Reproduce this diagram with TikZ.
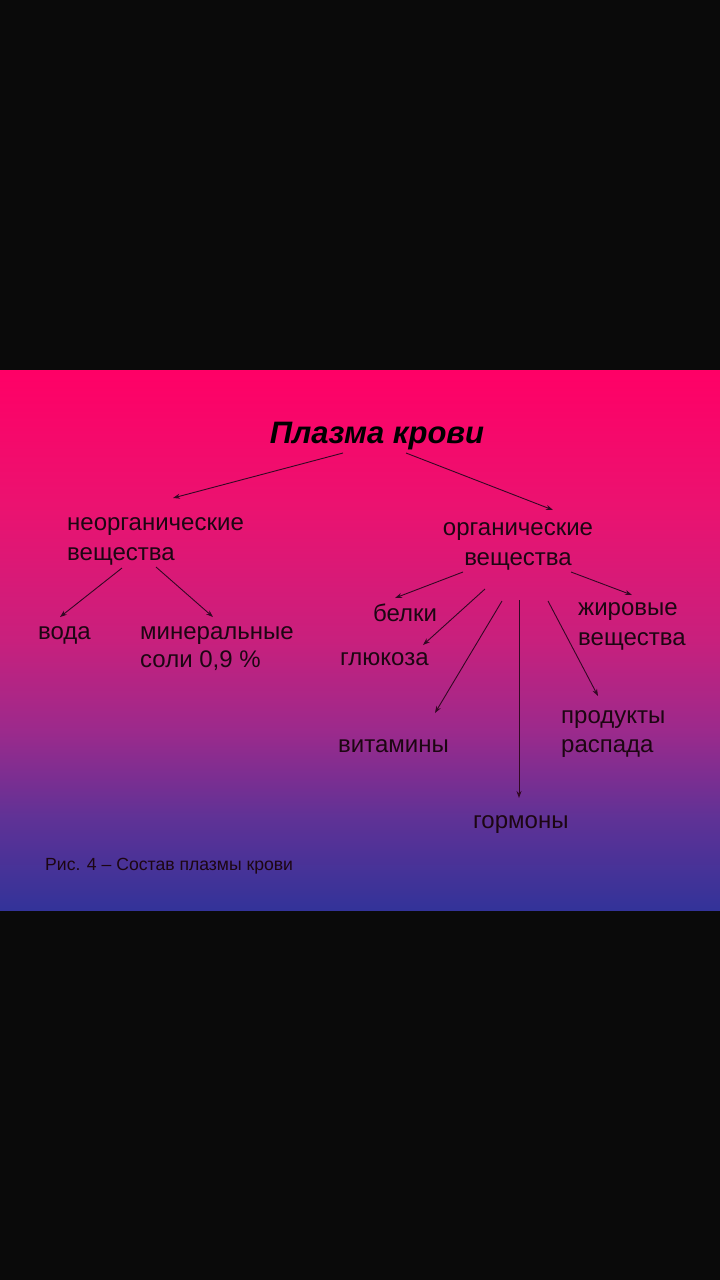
\documentclass[tikz,border=0pt]{standalone}
\usepackage{fontspec}
\setmainfont{Liberation Sans}
\usetikzlibrary{calc,arrows.meta}
\definecolor{bgblack}{RGB}{10,10,10}
\definecolor{txt}{RGB}{28,6,18}
\definecolor{arrc}{RGB}{50,8,35}
\definecolor{cb0}{RGB}{51,51,153}
\definecolor{cb1}{RGB}{95,50,150}
\definecolor{cb2}{RGB}{155,42,140}
\definecolor{cb3}{RGB}{200,32,125}
\definecolor{cb4}{RGB}{235,18,112}
\definecolor{cb5}{RGB}{255,0,102}
\pgfdeclareverticalshading{bandshade}{100bp}{color(0bp)=(cb0); color(25bp)=(cb0); color(33.5bp)=(cb1); color(41.5bp)=(cb2); color(50bp)=(cb3); color(62.5bp)=(cb4); color(75bp)=(cb5); color(100bp)=(cb5)}
\tikzset{
  lbl/.style={inner sep=0pt, text=txt, font=\fontsize{24}{30}\selectfont, anchor=base west, align=left},
  ttl/.style={inner sep=0pt, text=black, font=\fontsize{31}{36}\selectfont\bfseries\itshape, anchor=base},
  captxt/.style={inner sep=0pt, text=txt, font=\fontsize{17.6}{21}\selectfont, anchor=base west},
  arr/.style={draw=arrc, line width=0.9pt, -{Stealth[length=7pt,width=5pt]}}
}
\begin{document}
\begin{tikzpicture}[x=1pt,y=-1pt]
\useasboundingbox (0,0) rectangle (720,1280);
\fill[bgblack] (0,0) rectangle (720,1280);
\shade[shading=bandshade] (0,370) rectangle (720,910);

\node[ttl] (title) at (377,443) {Плазма крови};
\node[lbl] (neorg) at (67,560) {неорганические\\вещества};
\node[lbl, anchor=base, align=center] (org) at (518,565) {органические\\вещества};
\node[lbl] (voda) at (38,639) {вода};
\node[lbl, font=\fontsize{24}{28}\selectfont] (miner) at (140,667) {минеральные\\соли 0,9 \%};
\node[lbl] (belki) at (373,621) {белки};
\node[lbl] (gluk) at (340,665) {глюкоза};
\node[lbl] (zhir) at (578,645) {жировые\\вещества};
\node[lbl] (vitam) at (338,752) {витамины};
\node[lbl, font=\fontsize{24}{29}\selectfont] (prod) at (561,752) {продукты\\распада};
\node[lbl] (gorm) at (473,828) {гормоны};
\node[captxt] (caption) at (45,870) {Рис. 4 – Состав плазмы крови};

\draw[arr] ($(title.base)+(-34,10)$) -- ($(neorg.base west)+(106,-62)$);
\draw[arr] ($(title.base)+(29,10)$) -- ($(org.base)+(35,-55)$);
\draw[arr] ($(neorg.base west)+(55,8)$) -- ($(voda.base west)+(22,-22)$);
\draw[arr] ($(neorg.base west)+(89,7)$) -- ($(miner.base west)+(73,-50)$);
\draw[arr] ($(org.base)+(-55,7)$) -- ($(belki.base west)+(22,-23)$);
\draw[arr] ($(org.base)+(53,7)$) -- ($(zhir.base west)+(54,-50)$);
\draw[arr] ($(org.base)+(-33,24)$) -- ($(gluk.base west)+(83,-20)$);
\draw[arr] ($(org.base)+(-16,36)$) -- ($(vitam.base west)+(97,-39)$);
\draw[arr] ($(org.base)+(1,35)$) -- ($(gorm.base west)+(46,-30)$);
\draw[arr] ($(org.base)+(30,36)$) -- ($(prod.base west)+(37,-56)$);
\end{tikzpicture}
\end{document}
